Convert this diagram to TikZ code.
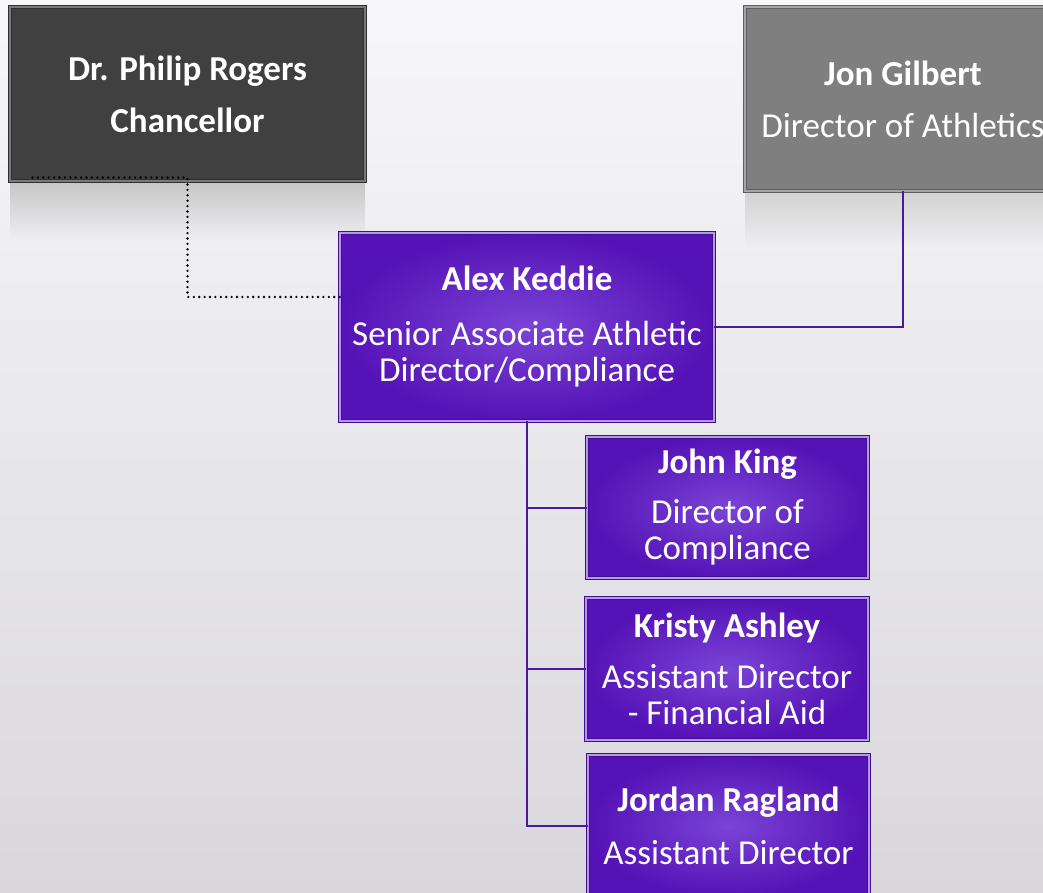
\documentclass[tikz,border=0pt]{standalone}
\usepackage{fontspec}
\setmainfont{Carlito}
\usetikzlibrary{positioning}

\definecolor{chancol}{HTML}{404040}
\definecolor{adcol}{HTML}{7F7F7F}
\definecolor{purpin}{HTML}{7A44D6}
\definecolor{purpout}{HTML}{5512B6}
\definecolor{linecol}{HTML}{4A1A9A}
\definecolor{bgtop}{HTML}{F7F7F9}
\definecolor{bgbot}{HTML}{D9D7DC}

\tikzset{
  box/.style={rectangle, text=white, align=center, inner sep=0pt,
    font=\fontsize{35}{36}\selectfont},
  greybox/.style={box, fill=#1, draw=#1!75!black, line width=1pt,
    double=#1!70!white, double distance=1.5pt},
  purpbox/.style={box, inner color=purpin, outer color=purpout,
    draw=purpout!80!black, line width=0.8pt,
    double=purpin!55!white, double distance=1.5pt},
  link/.style={linecol, line width=2pt},
  dots/.style={line width=2.6pt, dash pattern=on 0pt off 5.4pt, line cap=round}
}

\begin{document}
\begin{tikzpicture}[x=1pt,y=-1pt]
  \useasboundingbox (0,0) rectangle (1043,893);
  \clip (0,0) rectangle (1043,893);
  \shade[top color=bgtop, bottom color=bgbot] (0,0) rectangle (1043,893);

  % reflections under the top boxes
  \shade[top color=gray!45, bottom color=bgbot!27!bgtop] (10,181) rectangle (365,240);
  \shade[top color=gray!35, bottom color=bgbot!28!bgtop] (745,191) rectangle (1061,248);

  \node[greybox=chancol, minimum width=355pt, minimum height=174pt] (chan)
    at (187.5,94) {\textbf{Dr. Philip Rogers}\\[16pt]\textbf{Chancellor}};
  \node[greybox=adcol, minimum width=316pt, minimum height=184pt] (gilbert)
    at (903,99) {\textbf{Jon Gilbert}\\[16pt]Director of Athletics};

  \node[purpbox, minimum width=374pt, minimum height=188pt] (keddie)
    at (527,327) {\textbf{Alex Keddie}\\[19pt]Senior Associate Athletic\\Director/Compliance};

  \node[purpbox, minimum width=281pt, minimum height=141pt] (king)
    at (727.5,507.5) {\textbf{John King}\\[14pt]Director of\\Compliance};
  \node[purpbox, minimum width=282pt, minimum height=142pt] (kristy)
    at (727,669) {\textbf{Kristy Ashley}\\[15pt]Assistant Director\\- Financial Aid};
  \node[purpbox, minimum width=281pt, minimum height=142pt] (jordan)
    at (728.5,826) {\textbf{Jordan Ragland}\\[17pt]Assistant Director};

  \draw[link] (gilbert.south) |- (keddie.east);
  \draw[link] (keddie.south) |- (king.west);
  \draw[link] (keddie.south) |- (kristy.west);
  \draw[link] (keddie.south) |- (jordan.west);

  \coordinate (dend) at ([yshift=30pt]keddie.west);
  \draw[dots] ([xshift=23pt,yshift=4pt]chan.south west) -| (chan.south |- dend) -- (dend);

\end{tikzpicture}
\end{document}
